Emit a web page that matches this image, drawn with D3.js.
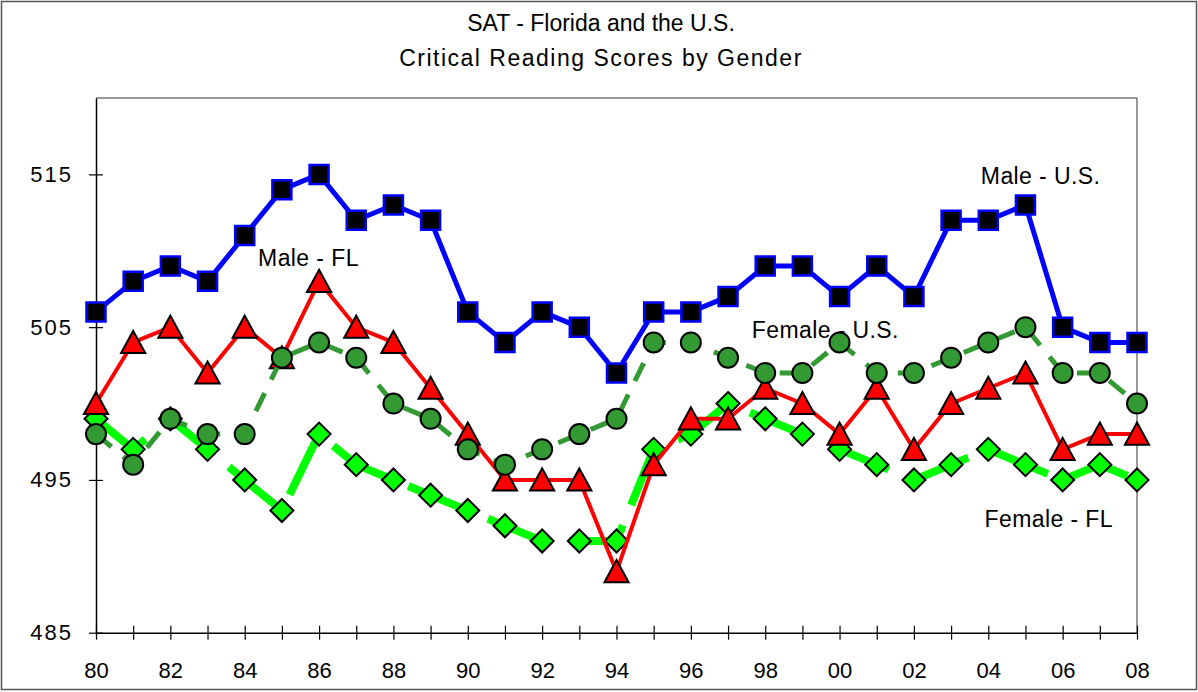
<!DOCTYPE html>
<html>
<head>
<meta charset="utf-8">
<script src="https://cdn.jsdelivr.net/npm/d3@7"></script>
<style>
  html, body { margin: 0; padding: 0; background: #fff; }
  svg { display: block; font-family: "Liberation Sans", Arial, sans-serif; }
</style>
</head>
<body>
<svg id="chart" width="1198" height="692"></svg>
<script>
// ---- data ----
const years = ["80","81","82","83","84","85","86","87","88","89","90","91","92","93","94","95","96","97","98","99","00","01","02","03","04","05","06","07","08"];
const maleUS   = [506,508,509,508,511,514,515,512,513,512,506,504,506,505,502,506,506,507,509,509,507,509,507,512,512,513,505,504,504];
const maleFL   = [500,504,505,502,505,503,508,505,504,501,498,495,495,495,489,496,499,499,501,500,498,501,497,500,501,502,497,498,498];
const femaleUS = [498,496,499,498,498,503,504,503,500,499,497,496,497,498,499,504,504,503,502,502,504,502,502,503,504,505,502,502,500];
const femaleFL = [499,497,499,497,495,493,498,496,495,494,493,492,491,491,491,497,498,500,499,498,497,496,495,496,497,496,495,496,495];
const yTicks = [485,495,505,515];
const xLabelYears = ["80","82","84","86","88","90","92","94","96","98","00","02","04","06","08"];
const titleLines = ["SAT - Florida and the U.S.", "Critical Reading Scores by Gender"];
const seriesLabels = ["Male - U.S.", "Male - FL", "Female - U.S.", "Female - FL"];

// ---- layout ----
const svg = d3.select("#chart");
const pLeft = 96, pRight = 1137, pTop = 98, pBottom = 632.7;
const x = d3.scaleLinear().domain([0, years.length - 1]).range([pLeft, pRight]);
const y = d3.scaleLinear().domain([485, 520]).range([pBottom, pTop]);

// outer frame
svg.append("rect").attr("x", 1.5).attr("y", 1.5).attr("width", 1195).attr("height", 688)
  .attr("fill", "none").attr("stroke", "#555").attr("stroke-width", 1.5);

// plot frame (top & right)
svg.append("path")
  .attr("d", `M${pLeft},${pTop}H${pRight}V${pBottom}`)
  .attr("fill", "none").attr("stroke", "#333").attr("stroke-width", 1);

// title
svg.selectAll("text.title").data(titleLines).enter().append("text")
  .attr("class", "title")
  .attr("x", 601).attr("y", (d, i) => 31 + i * 35)
  .attr("text-anchor", "middle").attr("font-size", 23).attr("fill", "#000")
  .attr("letter-spacing", (d, i) => i === 1 ? 1.5 : 0)
  .text(d => d);

// y axis
const yAxis = d3.axisLeft(y).tickValues(yTicks).tickSize(0).tickPadding(23).tickFormat(d3.format("d"));
const gy = svg.append("g").attr("transform", `translate(${pLeft},0)`).call(yAxis);
gy.select(".domain").attr("stroke", "#000").attr("stroke-width", 1.5);
gy.selectAll(".tick text").attr("font-size", 22).attr("fill", "#000").attr("letter-spacing", 2)
  .attr("font-family", "Liberation Sans, Arial, sans-serif");
gy.selectAll(".tick").append("line").attr("x1", -7).attr("x2", 7).attr("stroke", "#000").attr("stroke-width", 1.2);

// x axis
const xAxis = d3.axisBottom(x).tickValues(d3.range(years.length)).tickSize(0).tickPadding(30)
  .tickFormat(i => xLabelYears.includes(years[i]) ? years[i] : "");
const gx = svg.append("g").attr("transform", `translate(0,${pBottom})`).call(xAxis);
gx.select(".domain").attr("stroke", "#000").attr("stroke-width", 1.5);
gx.selectAll(".tick text").attr("font-size", 22).attr("fill", "#000").attr("font-family", "Liberation Sans, Arial, sans-serif");
gx.selectAll(".tick").append("line").attr("y1", -7).attr("y2", 7).attr("stroke", "#000").attr("stroke-width", 1.2);

// marker shapes
const shapes = {
  square: s => `M${-s},${-s}H${s}V${s}H${-s}Z`,
  triangle: s => `M0,${-s}L${s * 1.05},${s * 0.92}H${-s * 1.05}Z`,
  diamond: s => `M0,${-s}L${s},0L0,${s}L${-s},0Z`
};

const series = [
  { name: "femaleFL", values: femaleFL, color: "#00FF00", width: 8, dash: "64,22", marker: "diamond", size: 11.5, fill: "#00FF00", mstroke: "#000", msw: 2 },
  { name: "maleFL", values: maleFL, color: "#FF0000", width: 4, dash: null, marker: "triangle", size: 11.5, fill: "#FF0000", mstroke: "#000", msw: 2 },
  { name: "femaleUS", values: femaleUS, color: "#339933", width: 5, dash: "20,15", marker: "circle", size: 10, fill: "#339933", mstroke: "#000", msw: 2 },
  { name: "maleUS", values: maleUS, color: "#0000FF", width: 5, dash: null, marker: "square", size: 9.5, fill: "#000000", mstroke: "#0000FF", msw: 2.5 }
];

const line = d3.line().x((d, i) => x(i)).y(d => y(d));

series.forEach(s => {
  const g = svg.append("g").attr("class", s.name);
  const p = g.append("path").datum(s.values).attr("d", line)
    .attr("fill", "none").attr("stroke", s.color).attr("stroke-width", s.width)
    .attr("stroke-linejoin", "round");
  if (s.dash) p.attr("stroke-dasharray", s.dash);
  if (s.marker === "circle") {
    g.selectAll("circle").data(s.values).enter().append("circle")
      .attr("cx", (d, i) => x(i)).attr("cy", d => y(d)).attr("r", s.size)
      .attr("fill", s.fill).attr("stroke", s.mstroke).attr("stroke-width", s.msw);
  } else {
    g.selectAll("path.m").data(s.values).enter().append("path").attr("class", "m")
      .attr("d", shapes[s.marker](s.size))
      .attr("transform", (d, i) => `translate(${x(i)},${y(d)})`)
      .attr("fill", s.fill).attr("stroke", s.mstroke).attr("stroke-width", s.msw);
  }
});

// series labels
const labelPos = [
  { t: seriesLabels[0], yr: 23.8, v: 514.4 },
  { t: seriesLabels[1], yr: 4.36, v: 509.0 },
  { t: seriesLabels[2], yr: 17.64, v: 504.3 },
  { t: seriesLabels[3], yr: 23.9, v: 491.9 }
];
svg.selectAll("text.slabel").data(labelPos).enter().append("text")
  .attr("class", "slabel")
  .attr("x", d => x(d.yr)).attr("y", d => y(d.v))
  .attr("font-size", 23).attr("letter-spacing", 0.4).attr("fill", "#000")
  .text(d => d.t);
</script>
</body>
</html>
